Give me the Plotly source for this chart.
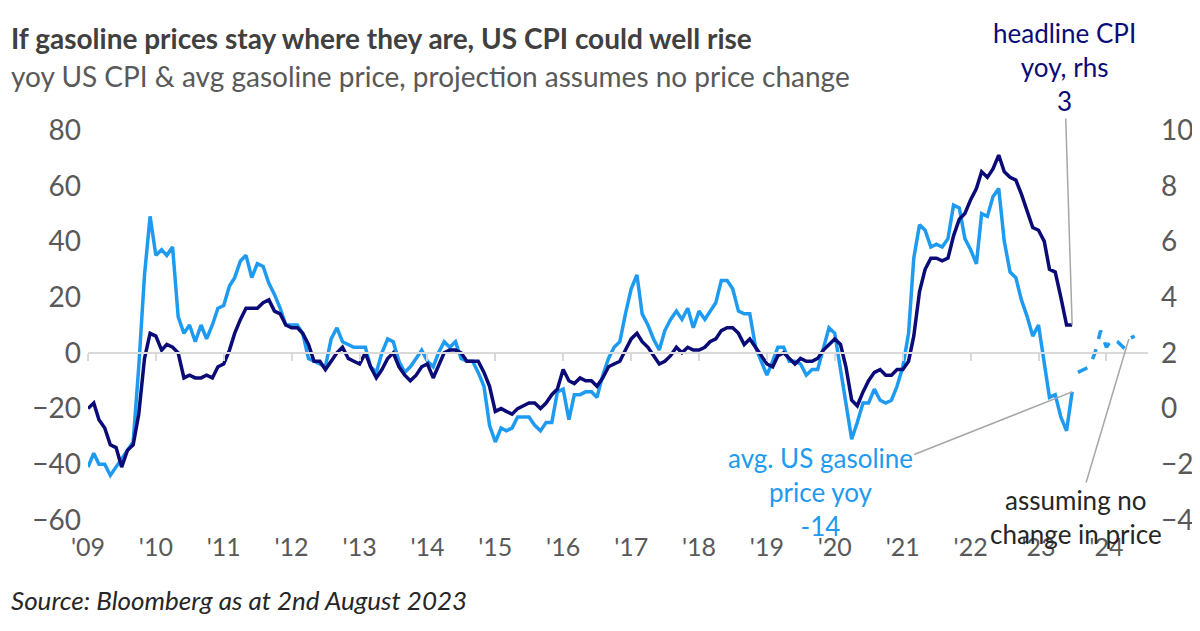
import pandas as pd
import plotly.graph_objects as go

months = pd.date_range("2009-01-01", "2023-07-01", freq="MS")
proj_months = pd.date_range("2023-08-01", "2024-06-01", freq="MS")

cpi_yoy = [
    0.0, 0.2, -0.4, -0.7, -1.3, -1.4, -2.1, -1.5, -1.3, -0.2, 1.8, 2.7,
    2.6, 2.1, 2.3, 2.2, 2.0, 1.1, 1.2, 1.1, 1.1, 1.2, 1.1, 1.5,
    1.6, 2.1, 2.7, 3.2, 3.6, 3.6, 3.6, 3.8, 3.9, 3.5, 3.4, 3.0,
    2.9, 2.9, 2.7, 2.3, 1.7, 1.7, 1.4, 1.7, 2.0, 2.2, 1.8, 1.7,
    1.6, 2.0, 1.5, 1.1, 1.4, 1.8, 2.0, 1.5, 1.2, 1.0, 1.2, 1.5,
    1.6, 1.1, 1.5, 2.0, 2.1, 2.1, 2.0, 1.7, 1.7, 1.7, 1.3, 0.8,
    -0.1, 0.0, -0.1, -0.2, 0.0, 0.1, 0.2, 0.2, 0.0, 0.2, 0.5, 0.7,
    1.4, 1.0, 0.9, 1.1, 1.0, 1.0, 0.8, 1.1, 1.5, 1.6, 1.7, 2.1,
    2.5, 2.7, 2.4, 2.2, 1.9, 1.6, 1.7, 1.9, 2.2, 2.0, 2.2, 2.1,
    2.1, 2.2, 2.4, 2.5, 2.8, 2.9, 2.9, 2.7, 2.3, 2.5, 2.2, 1.9,
    1.6, 1.5, 1.9, 2.0, 1.8, 1.6, 1.8, 1.7, 1.7, 1.8, 2.1, 2.3,
    2.5, 2.3, 1.5, 0.3, 0.1, 0.6, 1.0, 1.3, 1.4, 1.2, 1.2, 1.4,
    1.4, 1.7, 2.6, 4.2, 5.0, 5.4, 5.4, 5.3, 5.4, 6.2, 6.8, 7.0,
    7.5, 7.9, 8.5, 8.3, 8.6, 9.1, 8.5, 8.3, 8.2, 7.7, 7.1, 6.5,
    6.4, 6.0, 5.0, 4.9, 4.0, 3.0, 3.0,
]

gas_yoy = [
    -41, -36, -40, -40, -44, -41, -38, -35, -32, -5, 28, 49,
    35, 37, 35, 38, 13, 7, 10, 4, 10, 5, 10, 16,
    17, 24, 27, 33, 35, 27, 32, 31, 25, 21, 16, 10,
    10, 10, 7, -2, -3, -4, -5, 5, 9, 4, 3, 2,
    2, 2, -5, -7, 0, 5, 4, -3, -7, -5, -2, 1,
    -3, -5, 0, 4, 2, 4, -2, -3, -3, -7, -12, -26,
    -32, -27, -28, -27, -23, -23, -23, -26, -28, -25, -25, -14,
    -13, -24, -15, -15, -14, -14, -16, -8, -2, 2, 4, 14,
    23, 28, 14, 10, 5, 1, 8, 12, 15, 12, 16, 9,
    15, 12, 15, 18, 26, 26, 23, 15, 14, 14, 2, -3,
    -8, -3, 2, 2, -3, -3, -4, -8, -6, -6, 2, 9,
    7, -6, -18, -31, -25, -18, -18, -13, -17, -18, -17, -12,
    -5, 7, 34, 46, 44, 38, 39, 38, 41, 53, 52, 41,
    37, 32, 50, 49, 56, 59, 40, 29, 27, 19, 13, 6,
    10, -3, -16, -15, -23, -28, -14,
]

gas_projection = [-7, -6, -5, 0, 8, 2, 5, 4, 2, 5, 6]

year_ticks = pd.date_range("2009-01-01", "2024-01-01", freq="YS")
year_labels = ["'" + str(d.year)[2:] for d in year_ticks]

NAVY = "#0b0b78"
BLUE = "#1e9bf0"
GRAY_TXT = "#595959"
FONT = "Lato"

fig = go.Figure()
fig.add_trace(go.Scatter(x=months, y=gas_yoy, mode="lines",
                         line=dict(color=BLUE, width=3.5), yaxis="y"))
fig.add_trace(go.Scatter(x=proj_months, y=gas_projection, mode="lines",
                         line=dict(color=BLUE, width=3.5, dash="dash"), yaxis="y"))
fig.add_trace(go.Scatter(x=months, y=cpi_yoy, mode="lines",
                         line=dict(color=NAVY, width=3.5), yaxis="y2"))
fig.add_trace(go.Scatter(x=[months[0]], y=[0], mode="markers", opacity=0,
                         xaxis="x2", yaxis="y", hoverinfo="skip"))

xr = ["2009-01-01", "2024-08-12"]
fig.update_layout(
    width=1200, height=631, showlegend=False,
    plot_bgcolor="white", paper_bgcolor="white",
    margin=dict(l=80, r=60, t=122, b=119),
    font=dict(family=FONT, color=GRAY_TXT),
    xaxis=dict(range=xr, tickvals=year_ticks, ticktext=year_labels,
               showgrid=False, zeroline=False, showline=False,
               tickfont=dict(size=25, color=GRAY_TXT), ticks="", ticklabelstandoff=10),
    xaxis2=dict(range=xr, overlaying="x", anchor="free", position=60 / 140,
                tickvals=year_ticks, showticklabels=False, ticks="outside",
                ticklen=7, tickwidth=2, tickcolor="#d9d9d9",
                showline=True, linecolor="#d9d9d9", linewidth=2,
                showgrid=False, zeroline=False),
    yaxis=dict(range=[-60, 80], tickvals=list(range(-60, 81, 20)),
               showgrid=False, zeroline=False, showline=False,
               tickfont=dict(size=28, color=GRAY_TXT), ticklabelstandoff=6),
    yaxis2=dict(range=[-4, 10], tickvals=list(range(-4, 11, 2)), overlaying="y",
                side="right", showgrid=False, zeroline=False, showline=False,
                tickfont=dict(size=28, color=GRAY_TXT), ticklabelstandoff=12),
)

fig.add_annotation(xref="paper", yref="paper", x=-0.075, y=1.0, yshift=111,
                   xanchor="left", yanchor="top", showarrow=False,
                   text="<b>If gasoline prices stay where they are, US CPI could well rise</b>",
                   font=dict(size=28, color="#404040", family=FONT))
fig.add_annotation(xref="paper", yref="paper", x=-0.075, y=1.0, yshift=73,
                   xanchor="left", yanchor="top", showarrow=False,
                   text="yoy US CPI & avg gasoline price, projection assumes no price change",
                   font=dict(size=28, color=GRAY_TXT, family=FONT))
fig.add_annotation(xref="paper", yref="paper", x=-0.075, y=0, yshift=-62,
                   xanchor="left", yanchor="top", showarrow=False,
                   text="<i>Source: Bloomberg as at 2nd August 2023</i>",
                   font=dict(size=26, color="#262626", family=FONT))

fig.add_annotation(x=months[-1], y=cpi_yoy[-1], xref="x", yref="y2",
                   text="headline CPI<br>yoy, rhs<br>" + f"{cpi_yoy[-1]:.0f}",
                   showarrow=True, arrowhead=0, arrowcolor="#a6a6a6", arrowwidth=1.5,
                   ax=-8, ay=-258, standoff=0,
                   font=dict(size=26, color=NAVY, family=FONT), align="center")
fig.add_annotation(x=months[-1], y=gas_yoy[-1], xref="x", yref="y",
                   text="avg. US gasoline<br>price yoy<br>" + f"{gas_yoy[-1]}",
                   showarrow=True, arrowhead=0, arrowcolor="#a6a6a6", arrowwidth=1.5,
                   ax=-252, ay=100, standoff=0,
                   font=dict(size=26, color=BLUE, family=FONT), align="center")
fig.add_annotation(x=proj_months[-2], y=gas_projection[-2], xref="x", yref="y",
                   text="assuming no<br>change in price",
                   showarrow=True, arrowhead=0, arrowcolor="#a6a6a6", arrowwidth=1.5,
                   ax=-53, ay=178, standoff=0,
                   font=dict(size=26, color="#262626", family=FONT), align="center")

fig.write_html("out.html")
